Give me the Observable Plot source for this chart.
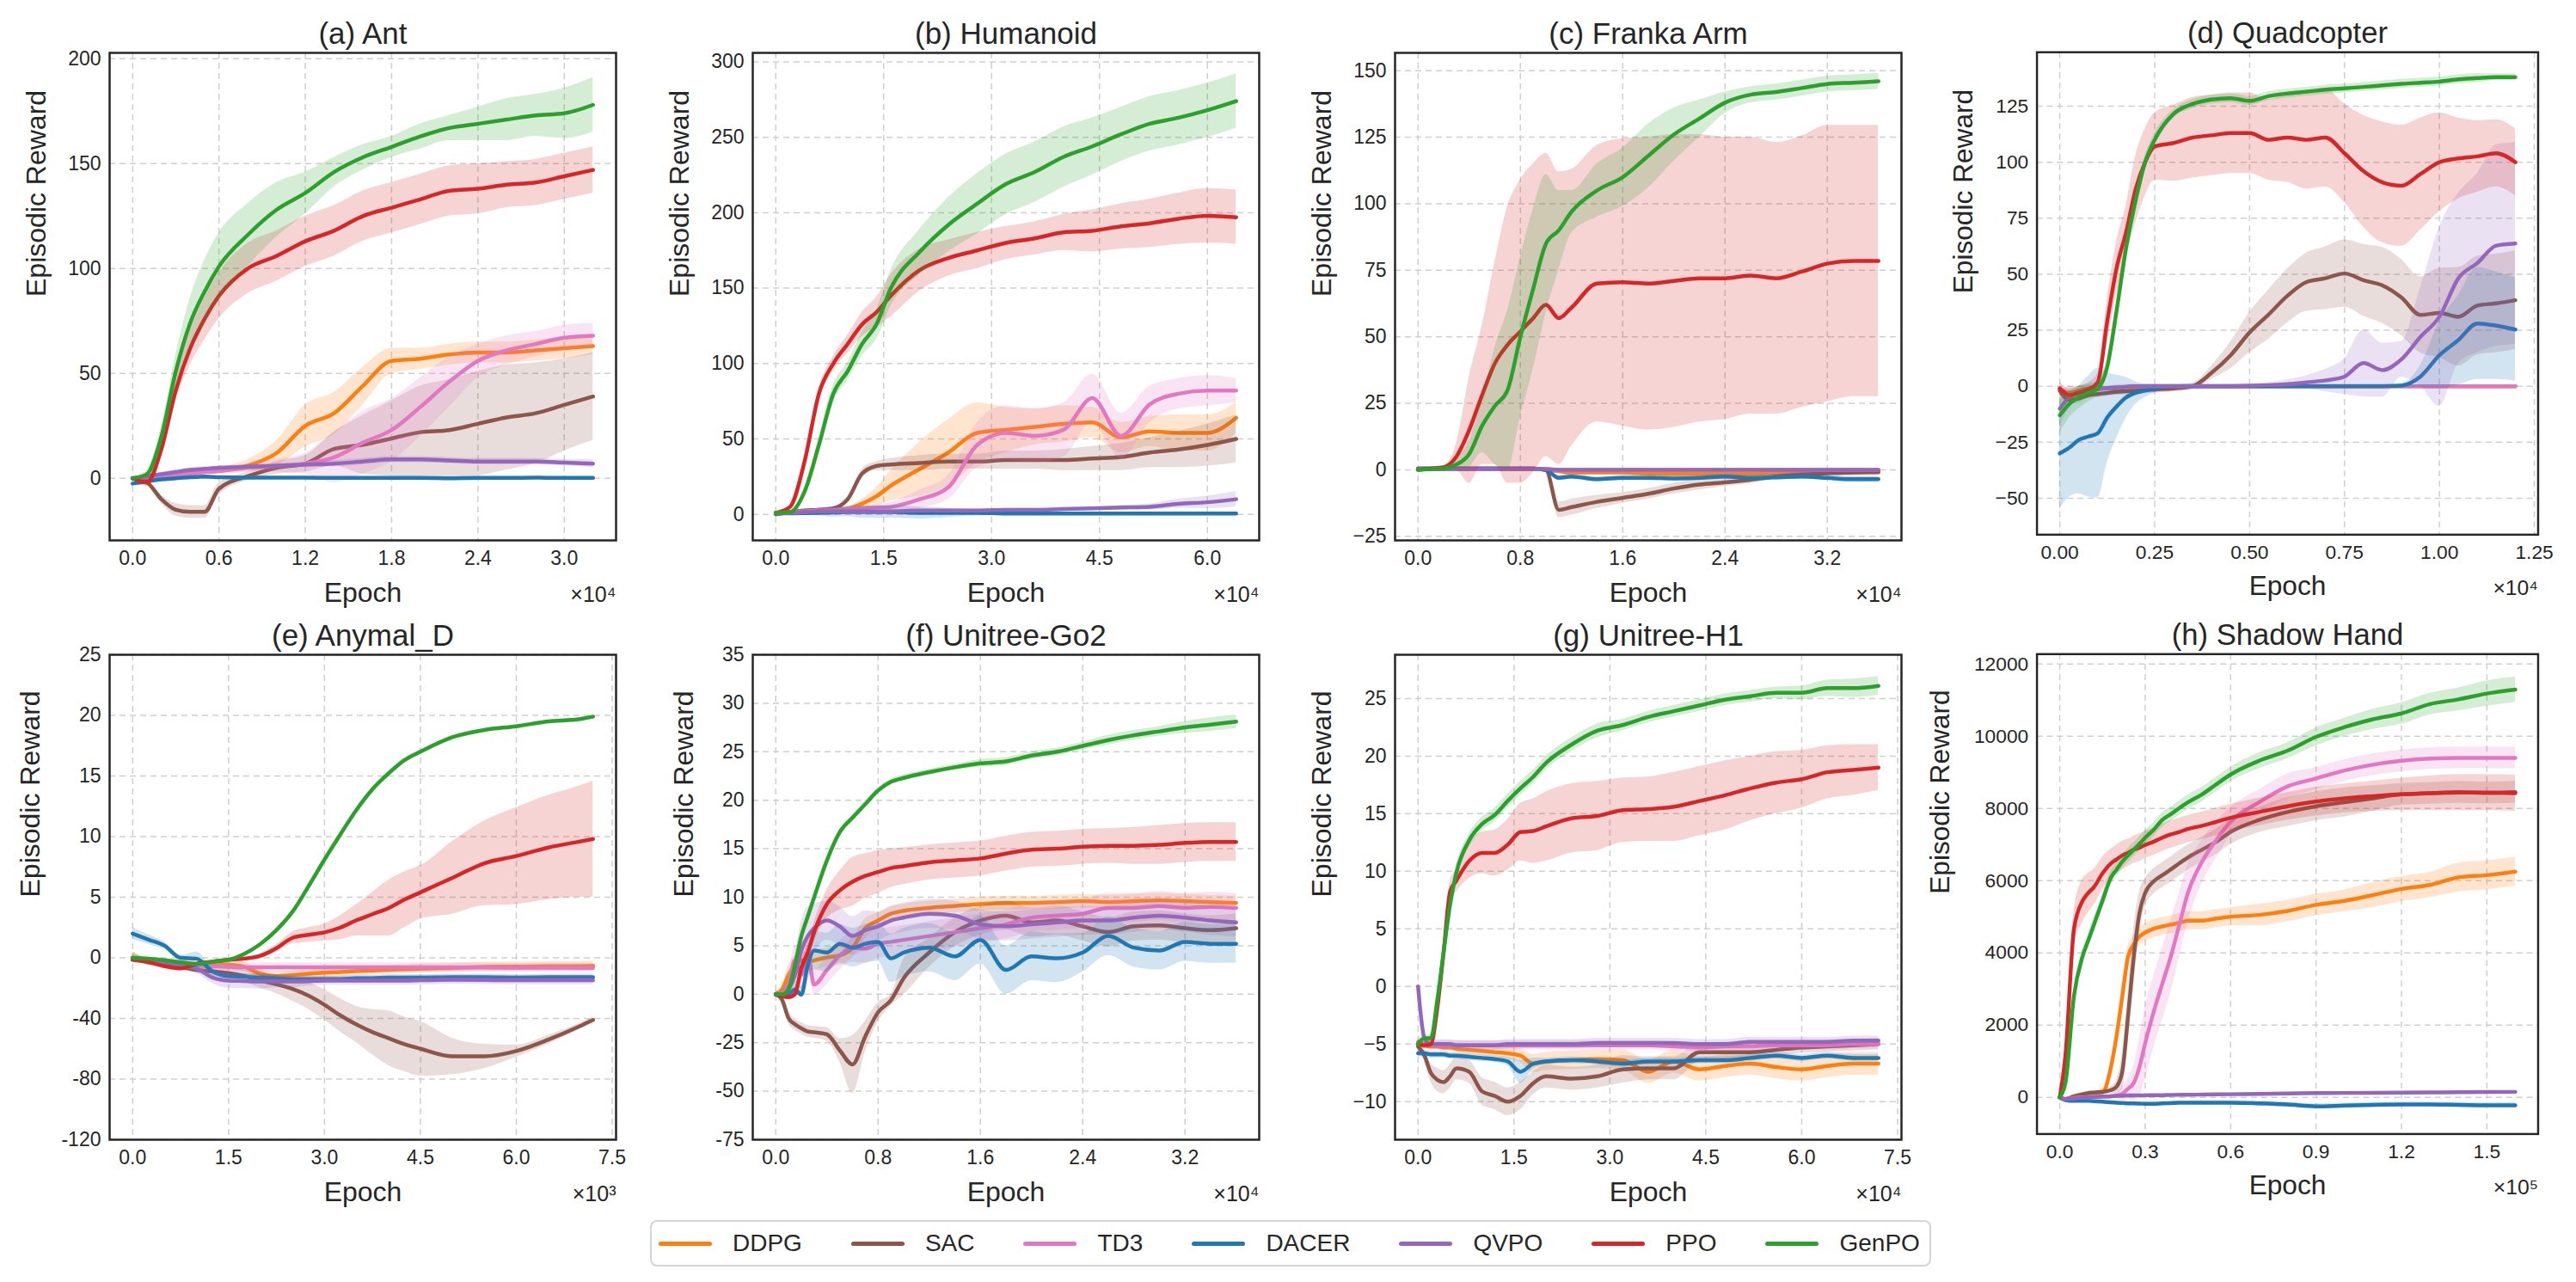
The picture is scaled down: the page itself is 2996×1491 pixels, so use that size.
<!DOCTYPE html>
<html><head><meta charset="utf-8">
<script src="https://cdn.jsdelivr.net/npm/d3@7"></script>
<script src="https://cdn.jsdelivr.net/npm/@observablehq/plot@0.6"></script>
<style>
html,body{margin:0;padding:0;background:#fff;}
#root{position:relative;width:2996px;height:1491px;overflow:hidden;background:#fff;font-family:"Liberation Sans",Arial,sans-serif;color:#262626;}
.panel{position:absolute;}
#legend{position:absolute;box-sizing:border-box;border:2px solid #d4d4d4;border-radius:8px;display:flex;align-items:center;gap:57px;padding-left:8px;font-size:28px;background:#fff;}
.item{display:flex;align-items:center;gap:24px;}
.sw{width:62px;height:5px;border-radius:3px;}
</style></head><body><div id="root"></div>
<script>
// ---------------- series ----------------
const seriesNames = ["DDPG","SAC","TD3","DACER","QVPO","PPO","GenPO"];
const seriesColors = ["#ff7f0e","#8c564b","#e377c2","#1f77b4","#9467bd","#d62728","#2ca02c"];

// ---------------- (a) Ant ----------------
const antEpoch = [0,1000,2000,3000,4000,5000,6000,8000,10000,12000,14000,16000,18000,20000,22000,24000,26000,28000,30000,32000];
const antMean = [
  [0,0,1,2,2.5,3,3.5,6,12,25,31,44,56,57,59,60,60,61,62,63],
  [0,-2,-10,-15,-16,-16,-5,1,5,7,14,16,19,22,23,26,29,31,35,39],
  [0,0.5,1,1.5,2,3,3.5,5,6,7,10,17,23,34,46,56,61,64,67,68],
  [-2.5,-1.5,-0.5,0,0.5,0.8,0.5,0.3,0.3,0.3,0.2,0.2,0.2,0.2,0,0.2,0.2,0.3,0.2,0.2],
  [0,1,2,3,4,4.5,5,5.5,6,6.5,7,8,9,9,8.5,8,8,8,7.5,7],
  [0,-2,14,42,62,76,87,100,106,113,118,125,129,133,137,138,140,141,144,147],
  [0,2,20,51,74,89,101,116,128,136,146,153,158,163,167,169,171,173,174,178]];
const antStd = [
  [0,0.5,1,1,1,1,1.5,3,6,10,10,9,6,5,5,5,5,5,5,4],
  [0,1,2,3,3,3,3,2,3,4,8,14,18,22,24,25,25,24,22,21],
  [0,0.5,0.5,1,1,1,1,2,3,5,12,15,15,14,12,8,7,6,6,6],
  [1,1,0.8,0.5,0.5,0.5,0.5,0.5,0.5,0.5,0.5,0.5,0.5,0.5,0.5,0.5,0.5,0.5,0.5,0.5],
  [0,0.5,1,1,1,1,1,1,1,1,1.5,1.5,1.5,1.5,1.5,1.5,1.5,1.5,1.5,2],
  [0,2,3,5,8,10,11,12,12,12,12,12,12,12,12,12,11,11,11,11],
  [0,2,5,8,12,15,16,15,13,10,7,6,5,6,6,8,10,10,12,13]];
const antXTicks = [0,6000,12000,18000,24000,30000];
const antYTicks = [0,50,100,150,200];

// ---------------- (b) Humanoid ----------------
const humEpoch = [0,2000,4000,6000,8000,10000,12000,14000,16000,20000,24000,28000,32000,36000,40000,44000,48000,52000,56000,60000,64000];
const humMean = [
  [1,1.5,2,3,3.5,4,7,12,19,30,41,54,56,58,60,61,51,55,54,54,64],
  [0,1.5,2.5,3,4,10,27,32,33,34,35,35,36,36,36,37,38,41,43,46,50],
  [1,1.5,2,2.5,3,3.5,4,4.5,5,10,18,46,54,52,56,77,52,73,80,82,82],
  [0.5,0.7,0.8,1,1.2,1.5,1.5,1.5,1.5,1,1,1,0.5,0.5,0.5,0.5,0.5,0.5,0.5,0.5,0.5],
  [0.5,1,1.5,2,2,2,2,2,2,2.5,2.5,2.5,3,3,3.5,4,4.5,5,7,8,10],
  [1,5,35,80,100,113,126,134,145,162,170,175,180,183,187,188,191,193,196,198,197],
  [1,1.5,15,46,80,95,113,126,150,174,192,206,219,227,237,244,252,259,263,268,274]];
const humStd = [
  [0,0.5,0.5,1,1,1,3,6,10,18,22,20,15,12,12,10,10,10,12,12,10],
  [0,0.5,1,1,1,2,3,3,4,5,5,5,6,6,7,8,9,10,12,14,16],
  [0,0.5,0.5,0.5,1,1,1,2,3,6,8,15,18,18,18,16,15,12,10,10,8],
  [0.5,1,1.5,2,3,3,4,4,4,4,3,2,1,1,1,1,1,1,1,1,1],
  [0.5,0.5,0.5,0.5,0.5,0.5,0.5,0.5,1,1,1,1,1,1,1,1,1.5,2,3,4,5],
  [0,1,3,4,5,6,8,10,14,14,12,12,11,11,12,14,15,16,17,18,18],
  [0,1,3,5,6,6,8,10,12,15,18,20,20,20,20,19,18,18,18,18,18]];
const humXTicks = [0,15000,30000,45000,60000];
const humYTicks = [0,50,100,150,200,250,300];

// ---------------- (c) Franka Arm ----------------
const frkEpoch = [0,1000,2000,3000,4000,5000,6000,7000,8000,9000,10000,11000,12000,14000,16000,18000,20000,22000,24000,26000,28000,30000,32000,34000,36000];
const frkMean = [
  [0.5,0.5,0.5,0.5,0.5,0.5,0.5,0.5,0.5,0.5,0,-0.5,-1,-1,-1,-1.5,-1.5,-1.5,-1.5,-1.5,-1.2,-1,-1,-1,-1],
  [0.5,0.5,0.5,0.5,0.5,0.5,0.5,0.5,0.5,0.5,0,-15,-14,-12,-10.5,-9,-7,-5.5,-4.7,-3.7,-2.5,-1.8,-1.3,-1,-0.7],
  [0.5,0.5,0.5,0.5,0.5,0.5,0.5,0.5,0.5,0.5,0.3,0,0,0,0,0,0,0,0,0,0,0,0,0,0],
  [0.5,0.5,0.5,0.5,0.5,0.5,0.5,0.5,0.5,0.5,0,-3,-2.5,-3.5,-3,-3,-3.2,-3,-2.5,-3,-2.8,-2.5,-3,-3.5,-3.5],
  [0.3,0.3,0.3,0.3,0.3,0.3,0.3,0.3,0.3,0.3,0.3,0,0,0,0,0,0,0,0,0,0,0,0,0,0],
  [0,0.5,1,5,15,28,40,47,52,57,62,57,61,70,70.5,70,71,72,72,73,72,74.5,77.5,78.5,78.5],
  [0,0.3,0.5,2,6,16.5,24,30,50,68,85,90,97,105,110,118,126,132,138,141,142,143.5,145,145.5,146]];
const frkStd = [
  [0.3,0.3,0.3,0.3,0.3,0.3,0.3,0.3,0.3,0.3,0.5,0.5,0.5,0.5,0.5,0.5,0.5,0.5,0.5,0.5,0.5,0.5,0.5,0.5,0.5],
  [0.3,0.3,0.3,0.3,0.3,0.3,0.3,0.3,0.3,0.3,1,3,3,2.5,2,2,2,2,1.5,1.5,1,1,1,1,1],
  [0.3,0.3,0.3,0.3,0.3,0.3,0.3,0.3,0.3,0.3,0.3,0.3,0.3,0.3,0.3,0.3,0.3,0.3,0.3,0.3,0.3,0.3,0.3,0.3,0.3],
  [0.3,0.3,0.3,0.3,0.3,0.3,0.3,0.3,0.3,0.3,0.5,1,1,1,1,1,1,1,1,1,1,1,1,1.2,1.2],
  [0.3,0.3,0.3,0.3,0.3,0.3,0.3,0.3,0.3,0.3,0.3,0.3,0.3,0.3,0.3,0.3,0.3,0.3,0.3,0.3,0.3,0.3,0.3,0.3,0.3],
  [0,0,0.5,5,20,26,38,52,57,58,57,55,52,52,54,55,55,54,53,52,51,51,52,51,51],
  [0,0,0.5,2,5,10,22,30,30,30,26,15,8,10,11,12,10,7,4,3,3,3,3,3,3]];
const frkXTicks = [0,8000,16000,24000,32000];
const frkYTicks = [-25,0,25,50,75,100,125,150];

// ---------------- (d) Quadcopter ----------------
const quadEpoch = [0,250,500,750,1000,1250,1500,1750,2000,2250,2500,3000,3500,4000,4500,5000,5500,6000,6500,7000,7500,8000,8500,9000,9500,10000,10500,11000,11500,12000];
const quadMean = [
  [-1,-3,-2,-1,-1,-1,-1,-0.5,-0.5,-0.5,-0.5,0,0,0,0,0,0,0,0,0,0,0,0,0,0,0,0,0,0,0],
  [-2,-6,-5.5,-4,-3.5,-3,-2.5,-2.3,-2,-1.8,-1.5,-1,0,6,13.8,24,32,40.4,46.5,48.2,50.3,47.3,45,39.6,31.8,32.7,31,36,37,38.4],
  [-1,-4,-3,-2,-1.5,-1,-0.5,-0.3,0,0,0,0,0,0,0,0,0,0,0,0,0,0,0,0,0,0,0,0,0,0],
  [-30,-27.5,-24,-22.5,-21,-14,-9,-5,-3,-2,-1,0,0,0,0,0,0,0,0,0,0,0,0,0.3,4.3,13.8,20.6,28,27,25.3],
  [-10,-5,-3,-1.5,-1,-0.8,-0.5,-0.3,0,0,0,0,0,0,0,0.2,0.5,0.9,1.7,2.6,4.3,10.3,7.2,12,22,31,48.2,55,62.8,63.7],
  [-1,-4,-3,-1.5,1.7,29,53,69,88,100,107,108.6,111,112,113,113,110,111,110,111,104,96,91,89.5,94.7,100,101.7,102.6,104,100],
  [-13,-8,-5,-3,-1,8.6,34,62,83,100,110,121.6,126,128,128.6,127.4,129.5,130.7,131.5,132.4,133,133.6,134.3,135,135.5,136,137,137.6,138,138]];
const quadStd = [
  [1,1,1,0.5,0.5,0.5,0.5,0.3,0.3,0.3,0.3,0.3,0.3,0.3,0.3,0.3,0.3,0.3,0.3,0.3,0.3,0.3,0.3,0.3,0.3,0.3,0.3,0.3,0.3,0.3],
  [2,2,2,1.5,1.5,1.5,1.5,1.5,1.5,1.5,1.5,1.5,1.5,3,6,9,11,12,13,14,15,16,17,17,17,20,22,22,22,22],
  [1,1,1,0.5,0.5,0.5,0.5,0.3,0.3,0.3,0.3,0.3,0.3,0.3,0.3,0.3,0.3,0.3,0.3,0.3,0.3,0.3,0.3,0.3,0.3,0.3,0.3,0.3,0.3,0.3],
  [25,22,24,27,29,20,14,9,5,3,2,1,1,1,1,1,1,1,1,1,1,1,1,1,5,15,20,25,24,23],
  [8,5,3,2,1,1,1,1,1,1,1,1,1,1,1,1,1,2,3,5,8,15,12,8,22,40,38,40,45,45],
  [3,3,3,3,4,10,12,12,15,15,15,17,18,18,18,18,18,20,22,22,22,25,27,27,25,22,18,16,15,15],
  [8,6,5,4,3,4,5,5,4,3,3,2,2,2,2,2,2,2,2,2,2,2,2,2,2,2,2,2,1.5,1.5]];
const quadXTicks = [0,2500,5000,7500,10000,12500];
const quadYTicks = [-50,-25,0,25,50,75,100,125];

// ---------------- (e) Anymal_D ----------------
const anyEpoch = [0,250,500,750,1000,1250,1500,1750,2000,2250,2500,2750,3000,3250,3500,3750,4000,4250,4500,5000,5500,6000,6500,7000,7200];
const anyMean = [
  [0,-1,-2,-3,-4,-4.2,-4.5,-6,-10.5,-12,-11.3,-10.5,-9.8,-9.3,-8.7,-8.3,-7.9,-7.5,-7.1,-6.6,-6,-5.8,-5.6,-5.5,-5.3],
  [0,-2,-4,-6,-8,-9,-10,-12,-15,-17.5,-20.5,-25,-31,-38,-44,-49,-53,-57,-60,-65,-65,-61.5,-54,-45,-41],
  [-1.3,-1.8,-2.5,-4,-5,-5.5,-6,-6.2,-6.3,-6.3,-6.3,-6.3,-6.3,-6.3,-6.3,-6.3,-6.3,-6.3,-6.3,-6.3,-6.4,-6.5,-6.5,-6.6,-6.6],
  [2,1.5,1,0,-0.5,-9,-12,-12.5,-13,-13.5,-14,-14,-14,-14,-13.5,-13.5,-13,-13,-13,-12.7,-12.7,-13,-12.8,-12.7,-12.7],
  [-1,-2,-3,-5,-7,-13,-15,-15.3,-15.6,-15.6,-15.6,-15.4,-15,-15,-15,-15,-15,-15,-14.8,-14.5,-14.6,-14.8,-14.8,-14.8,-14.8],
  [-1.3,-3,-5.5,-7,-4,-2.5,-1.3,-0.5,0.17,0.8,1.65,1.9,2.1,2.5,3.1,3.6,4.1,4.8,5.4,6.6,7.8,8.4,9.1,9.6,9.8],
  [0,-0.5,-1.5,-3,-4,-2.5,-1.3,0.33,1.15,2.3,3.8,5.9,8.1,10.2,12.2,13.9,15.2,16.3,17,18.2,18.8,19.1,19.5,19.7,19.9]];
const anyStd = [
  [0.5,1,1.5,2,2,2.5,3,3,3,3,3,3,3,3,3,3,3,3,3,3,3,3,3,3,3],
  [0.5,1,2,2,2,3,3,4,5,6,8,9,10,11,12,15,18,18,18,12,8,4,3,2,2],
  [0.5,1,1.5,2,2.5,3,3,3,3,3,3,3,3,3,3,3,3,3,3,3,3,3,3,3,3],
  [0.5,0.4,0.3,0.2,1,2,2,2,2,2,2,2,2,2,2,2,2,2,2,2,2,2,2,2,2],
  [0.5,1,1,2,3,4,5,5,5,4,4,3,3,3,3,3,3,3,3,3,3,3,3,3,3],
  [0.5,1,1,1,1,1,0.5,0.2,0.2,0.3,0.5,0.6,0.7,1,1.3,1.8,2.3,2.3,2.2,3,3.5,4,4.3,4.6,4.8],
  [0.3,0.3,0.3,0.3,0.5,0.5,0.3,0.1,0.1,0.1,0.15,0.2,0.2,0.2,0.2,0.2,0.2,0.15,0.15,0.1,0.1,0.1,0.1,0.1,0.1]];
const anyXTicks = [0,1500,3000,4500,6000,7500];
const anyYTicks = [-120,-80,-40,0,5,10,15,20,25];

// ---------------- (f) Unitree-Go2 ----------------
const go2Epoch = [0,500,1000,1500,2000,2500,3000,4000,5000,6000,7000,8000,9000,10000,12000,14000,16000,18000,20000,22000,24000,26000,28000,30000,32000,34000,36000];
const go2Mean = [
  [0,0.5,2,3,3.5,3.3,3.5,3.8,4,4.8,6.8,7.6,8.3,8.6,8.9,9.1,9.3,9.4,9.4,9.5,9.6,9.5,9.6,9.7,9.6,9.5,9.4],
  [0,-3,-12.4,-15.5,-17.6,-19.2,-19.6,-20.7,-28.9,-36.2,-21.7,-9.3,-3.1,1.65,4.3,6.4,7.6,8.1,7.4,7.6,7,6.4,7,7.1,6.8,6.6,6.8],
  [0,0,1,3.5,2,4,1,2.5,4,4.8,4.7,5.2,5.4,5.6,6,6.4,6.8,7.2,7.9,8.1,8.3,8.9,8.9,9.1,8.9,9,8.9],
  [-0.3,-0.5,0,0.5,-0.2,3,4.5,4.3,5.2,4.8,5.2,5.4,3.7,4.3,4.8,3.9,5.6,2.5,3.9,3.7,4.3,6,4.8,4.5,5.4,5.2,5.2],
  [0,0,0.5,2,4.5,6,6.8,7.6,7,6,6.6,7,7.6,7.9,8.3,8.1,7.2,7,7.2,7.4,7.6,7.6,7.9,8.1,7.9,7.6,7.4],
  [0,-1,-1.5,0,2.7,4.3,6.4,9.3,10.7,11.6,12.2,12.6,13,13.2,13.6,13.8,14,14.5,14.9,15,15.2,15.3,15.3,15.4,15.6,15.7,15.7],
  [0,-0.2,0.5,3,6,8,10,13.8,16.7,18.2,19.6,21,21.9,22.3,22.9,23.4,23.8,24,24.6,25,25.6,26.2,26.7,27.1,27.5,27.8,28.1]];
const go2Std = [
  [0.3,0.5,1,1,1,1,1,1,1,1,1,0.8,0.7,0.7,0.7,0.7,0.7,0.7,0.7,0.7,0.7,0.7,0.7,0.7,0.7,0.7,0.7],
  [0.5,1,3,3,3,3,3,3.5,6,15,8,5,3,2,1.5,1.5,1.5,1.5,1.5,1.5,1.5,1.5,1.5,1.5,1.5,1.5,1.5],
  [0.3,0.5,1,1.5,1.5,1.5,1.5,1.5,1.5,1.5,1.5,1.5,1.5,1.5,1.5,1.5,1.5,1.5,1.5,1.5,1.5,1.5,1.5,1.5,1.5,1.5,1.5],
  [0.5,0.5,1,1,1,1.5,2,2,2,2,2,2,2.5,2.5,2.5,2.5,2.5,2.5,2.5,2.5,2,2,2,2,2,2,2],
  [0.3,0.5,1,2,3,3,2.5,2,2,2,2,1.5,1.5,1.5,1.5,1.5,1.5,1.5,1.5,1.5,1.5,1.5,1.5,1.5,1.5,1.5,1.5],
  [0.2,0.3,0.5,0.5,0.7,1,1,1.5,2,2.5,2.3,2.2,2,1.9,1.8,1.8,1.8,1.8,1.8,1.8,1.8,1.8,1.9,2,2,2,2],
  [0.2,0.3,0.3,0.3,0.3,0.3,0.3,0.3,0.3,0.3,0.3,0.3,0.3,0.3,0.3,0.3,0.4,0.4,0.4,0.4,0.4,0.5,0.5,0.5,0.6,0.7,0.7]];
const go2XTicks = [0,8000,16000,24000,32000];
const go2YTicks = [-75,-50,-25,0,5,10,15,20,25,30,35];

// ---------------- (g) Unitree-H1 ----------------
const h1Epoch = [0,1000,2000,3000,4000,5000,6000,8000,10000,12000,14000,16000,18000,20000,24000,28000,32000,36000,40000,44000,48000,52000,56000,60000,64000,68000,72000];
const h1Mean = [
  [-5,-5.1,-5.2,-5.2,-5.3,-5.3,-5.4,-5.5,-5.6,-5.7,-5.8,-6,-6.7,-6.5,-6.4,-6.3,-6.4,-7.4,-6.5,-7.2,-6.9,-6.7,-7,-7.2,-6.9,-6.7,-6.7],
  [-5.2,-6,-7.5,-8.1,-8.3,-7.8,-7.1,-7.4,-9.1,-9.5,-10,-9.5,-8.4,-7.8,-8,-7.8,-7.2,-7.1,-7.1,-5.7,-5.7,-5.7,-5.5,-5.3,-5.2,-5.1,-5],
  [-4.8,-5,-5,-5.1,-5.1,-5.1,-5.1,-5.1,-5.1,-5.1,-5.1,-5.1,-5.1,-5.1,-5.1,-5.1,-5.1,-5.1,-5.2,-5.3,-5.2,-5.2,-5.1,-5.1,-5.1,-5,-5],
  [-5.8,-5.8,-5.9,-5.9,-5.9,-6,-6,-6.1,-6.2,-6.3,-6.5,-7.4,-6.7,-6.5,-6.4,-6.5,-6.7,-6.5,-6.5,-6.4,-6.4,-6.2,-6,-6.2,-6,-6.2,-6.2],
  [0,-4.5,-5,-5,-5,-5,-5.1,-5.1,-5.1,-5.1,-5,-5,-5,-5,-5,-4.9,-4.9,-4.9,-4.9,-5,-5,-4.8,-4.8,-4.8,-4.8,-4.7,-4.7],
  [-5,-5.1,-5,-1.9,3,8.2,9.2,10.9,11.6,11.6,12.3,13.4,13.5,13.9,14.6,14.8,15.3,15.4,15.6,16.1,16.6,17.2,17.7,18,18.6,18.8,19],
  [-5,-4.5,-4.5,-1.2,3,7.1,9.9,12.7,14.1,14.9,16.1,17.2,18.2,19.4,21,22.2,22.7,23.4,23.9,24.4,24.9,25.2,25.5,25.5,25.9,25.9,26.1]];
const h1Std = [
  [0.3,0.3,0.3,0.3,0.3,0.3,0.3,0.4,0.4,0.4,0.5,0.6,0.8,0.8,0.8,0.8,0.9,1,1,1,1,1,1,1,1,1,1],
  [0.3,0.5,0.8,1,1,1,1,1,1.2,1.2,1.2,1.2,1,1,1,1,1.2,1,1,0.8,0.6,0.5,0.5,0.5,0.5,0.5,0.5],
  [0.4,0.4,0.4,0.4,0.4,0.4,0.4,0.4,0.4,0.4,0.4,0.4,0.4,0.4,0.4,0.4,0.4,0.4,0.4,0.4,0.4,0.4,0.4,0.4,0.4,0.4,0.4],
  [0.3,0.3,0.3,0.3,0.3,0.3,0.3,0.3,0.3,0.3,0.4,1,0.5,0.3,0.3,0.3,0.3,0.3,0.3,0.3,0.3,0.3,0.3,0.3,0.3,0.3,0.3],
  [0.4,0.4,0.4,0.4,0.4,0.4,0.4,0.4,0.4,0.4,0.4,0.4,0.4,0.4,0.4,0.4,0.4,0.4,0.4,0.4,0.4,0.4,0.4,0.4,0.4,0.4,0.4],
  [0.3,0.3,0.3,0.5,1,1,1,1.5,1.8,2,2.2,2.5,2.8,3,3,3,2.8,2.8,3,3,3,2.8,2.7,2.5,2.3,2.2,2],
  [0.3,0.3,0.3,0.5,0.5,0.5,0.6,0.6,0.6,0.6,0.6,0.6,0.6,0.6,0.6,0.6,0.5,0.5,0.5,0.5,0.5,0.5,0.5,0.6,0.7,0.8,0.8]];
const h1XTicks = [0,15000,30000,45000,60000,75000];
const h1YTicks = [-10,-5,0,5,10,15,20,25];

// ---------------- (h) Shadow Hand ----------------
const shEpoch = [0,2000,5000,8000,10000,12000,15000,18000,20000,22000,24000,26000,28000,30000,33000,36000,39000,42000,45000,50000,55000,60000,70000,80000,90000,100000,110000,120000,130000,140000,150000,160000];
const shMean = [
  [0,-50,30,80,100,120,140,840,1720,2810,3900,4230,4450,4560,4670,4730,4780,4830,4890,4890,4950,5000,5050,5160,5330,5440,5600,5770,5880,6090,6150,6250],
  [0,-50,20,80,120,130,150,200,300,730,2260,3900,5110,5660,5980,6150,6310,6480,6640,6860,7080,7350,7680,7900,8060,8170,8280,8390,8420,8450,8430,8450],
  [0,-50,-20,0,0,10,20,30,50,100,240,400,840,1500,2370,3140,3900,4780,5660,6530,7130,7630,8170,8610,8830,9050,9210,9320,9380,9400,9400,9400],
  [0,-80,-100,-100,-100,-110,-120,-140,-150,-160,-170,-170,-175,-180,-180,-170,-160,-150,-150,-150,-150,-150,-170,-200,-250,-230,-210,-200,-200,-210,-220,-220],
  [0,-50,-30,-10,0,10,20,30,40,45,50,50,55,55,60,60,65,70,70,75,80,85,95,105,115,120,125,130,135,140,145,150],
  [0,1170,4670,5440,5660,5820,6200,6480,6590,6700,6770,6860,6910,6990,7080,7190,7280,7350,7430,7520,7630,7740,7900,8060,8190,8280,8340,8390,8420,8440,8440,8420],
  [0,400,2810,3900,4340,4780,5440,6090,6310,6530,6700,6860,7020,7190,7410,7680,7840,8010,8170,8390,8670,8940,9320,9600,9980,10250,10470,10630,10890,11020,11180,11290]];
const shStd = [
  [0,50,50,50,50,50,100,200,300,400,300,250,250,250,250,250,250,250,250,250,250,250,300,300,300,300,350,350,350,400,400,400],
  [0,50,50,50,50,50,80,100,200,500,700,800,600,400,350,350,350,350,350,350,350,350,350,400,400,400,350,300,300,300,300,300],
  [0,50,50,50,50,50,50,50,100,200,300,500,800,1000,1000,1000,1000,900,800,600,500,400,350,350,300,300,300,300,300,300,300,300],
  [0,30,40,50,50,50,50,50,50,50,50,50,50,50,50,50,50,50,50,60,60,60,60,70,70,70,70,70,70,70,70,70],
  [0,30,30,30,30,30,30,30,30,30,30,30,30,30,30,30,30,30,30,30,30,30,30,30,30,30,30,30,30,30,30,30],
  [0,200,500,600,550,500,450,400,400,400,380,380,380,380,380,380,380,380,380,380,380,380,380,380,400,400,420,450,480,500,500,500],
  [0,100,200,200,200,200,200,200,200,200,200,200,200,200,200,200,200,200,200,200,200,200,220,220,250,250,280,300,300,320,350,350]];
const shXTicks = [0,30000,60000,90000,120000,150000];
const shYTicks = [0,2000,4000,6000,8000,10000,12000];

// ---------------- layout ----------------
const FW = 589, ML = 135, MT = 70, MR = 45, MB = 95;
const colLeft = [127, 875, 1622, 2370];
const rowTop = [61, 761];
const rowFH = [567, 564];
const unicodeMinus = d => d < 0 ? "\u2212" + Math.abs(d) : String(d);
const hyphenMinus = d => String(d);
const scaled = (s, dec) => d => (d / s).toFixed(dec);

const panels = [
  {title:"(a) Ant", col:0,row:0, x:antEpoch, mean:antMean, sd:antStd, xTicks:antXTicks, yTicks:antYTicks, xDom:[-1600,33600], yDom:[-29.6,202.8], xf:scaled(1e4,1), yf:unicodeMinus, off:"\u00d710\u2074", ylab:85},
  {title:"(b) Humanoid", col:1,row:0, x:humEpoch, mean:humMean, sd:humStd, xTicks:humXTicks, yTicks:humYTicks, xDom:[-3200,67200], yDom:[-17.3,306], xf:scaled(1e4,1), yf:unicodeMinus, off:"\u00d710\u2074", ylab:85},
  {title:"(c) Franka Arm", col:2,row:0, x:frkEpoch, mean:frkMean, sd:frkStd, xTicks:frkXTicks, yTicks:frkYTicks, xDom:[-1800,37800], yDom:[-26.5,156.7], xf:scaled(1e4,1), yf:unicodeMinus, off:"\u00d710\u2074", ylab:85},
  {title:"(d) Quadcopter", col:3,row:0, x:quadEpoch, mean:quadMean, sd:quadStd, xTicks:quadXTicks, yTicks:quadYTicks, xDom:[-600,12600], yDom:[-66.3,149.1], xf:scaled(1e4,2), yf:unicodeMinus, off:"\u00d710\u2074", ylab:86},
  {title:"(e) Anymal_D", col:0,row:1, x:anyEpoch, mean:anyMean, sd:anyStd, xTicks:anyXTicks, yTicks:anyYTicks, xDom:[-360,7560], yPiece:[-120,0,25], yFrac:3/8, xf:scaled(1e3,1), yf:hyphenMinus, off:"\u00d710\u00b3", ylab:92},
  {title:"(f) Unitree-Go2", col:1,row:1, x:go2Epoch, mean:go2Mean, sd:go2Std, xTicks:go2XTicks, yTicks:go2YTicks, xDom:[-1800,37800], yPiece:[-75,0,35], yFrac:3/10, xf:scaled(1e4,1), yf:hyphenMinus, off:"\u00d710\u2074", ylab:80},
  {title:"(g) Unitree-H1", col:2,row:1, x:h1Epoch, mean:h1Mean, sd:h1Std, xTicks:h1XTicks, yTicks:h1YTicks, xDom:[-3600,75600], yDom:[-13.3,28.8], xf:scaled(1e4,1), yf:unicodeMinus, off:"\u00d710\u2074", ylab:85},
  {title:"(h) Shadow Hand", col:3,row:1, x:shEpoch, mean:shMean, sd:shStd, xTicks:shXTicks, yTicks:shYTicks, xDom:[-8000,168000], yDom:[-1017,12273], xf:scaled(1e5,1), yf:unicodeMinus, off:"\u00d710\u2075", ylab:113}
];

const root = document.getElementById("root");
const gridStyle = {stroke:"#cfcfcf", strokeOpacity:1, strokeWidth:1.5, strokeDasharray:"7,5"};

for (const p of panels) {
  const FH = rowFH[p.row];
  const marks = [Plot.gridX(p.xTicks, gridStyle), Plot.gridY(p.yTicks, gridStyle)];
  seriesNames.forEach((name, si) => {
    const rows = p.x.map((x, i) => ({x, y: p.mean[si][i], lo: p.mean[si][i] - p.sd[si][i], hi: p.mean[si][i] + p.sd[si][i]}));
    marks.push(Plot.areaY(rows, {x:"x", y1:"lo", y2:"hi", fill:seriesColors[si], fillOpacity:0.2, curve:"monotone-x", clip:true}));
    marks.push(Plot.lineY(rows, {x:"x", y:"y", stroke:seriesColors[si], strokeWidth:4.5, curve:"monotone-x", clip:true}));
  });
  marks.push(Plot.frame({stroke:"#262626", strokeWidth:2.5}));
  marks.push(Plot.axisX(p.xTicks, {tickSize:0, tickPadding:12, fontSize:23, tickFormat:p.xf, label:null}));
  marks.push(Plot.axisY(p.yTicks, {tickSize:0, tickPadding:10, fontSize:23, tickFormat:p.yf, label:null}));
  marks.push(Plot.text([p.title], {text:d=>d, frameAnchor:"top", dy:-11, lineAnchor:"bottom", fontSize:35, fill:"#262626"}));
  marks.push(Plot.text(["Epoch"], {text:d=>d, frameAnchor:"bottom", dy:71, lineAnchor:"bottom", fontSize:32, fill:"#262626"}));
  marks.push(Plot.text([p.off], {text:d=>d, frameAnchor:"bottom-right", dy:71, lineAnchor:"bottom", textAnchor:"end", fontSize:25, fill:"#262626"}));
  marks.push(Plot.text(["Episodic Reward"], {text:d=>d, frameAnchor:"left", dx:-p.ylab, rotate:-90, fontSize:32, fill:"#262626"}));

  const bottom = MT + FH;
  const yScale = p.yPiece
    ? {type:"linear", domain:p.yPiece, range:[bottom, bottom - FH * p.yFrac, MT]}
    : {type:"linear", domain:p.yDom};
  const svg = Plot.plot({
    width: ML + FW + MR, height: MT + FH + MB,
    marginLeft: ML, marginRight: MR, marginTop: MT, marginBottom: MB,
    x: {domain: p.xDom}, y: yScale,
    style: {fontFamily:"Liberation Sans, Arial, sans-serif", color:"#262626", background:"transparent", overflow:"visible"},
    marks
  });
  const holder = document.createElement("div");
  holder.className = "panel";
  holder.style.left = (colLeft[p.col] - ML) + "px";
  holder.style.top = (rowTop[p.row] - MT) + "px";
  holder.appendChild(svg);
  root.appendChild(holder);
}

// ---------------- legend ----------------
const legend = document.createElement("div");
legend.id = "legend";
legend.style.left = "756px"; legend.style.top = "1419px";
legend.style.width = "1490px"; legend.style.height = "54px";
seriesNames.forEach((n, i) => {
  const item = document.createElement("div");
  item.className = "item";
  const sw = document.createElement("div");
  sw.className = "sw"; sw.style.background = seriesColors[i];
  const t = document.createElement("span");
  t.textContent = n;
  item.appendChild(sw); item.appendChild(t);
  legend.appendChild(item);
});
root.appendChild(legend);
</script></body></html>
